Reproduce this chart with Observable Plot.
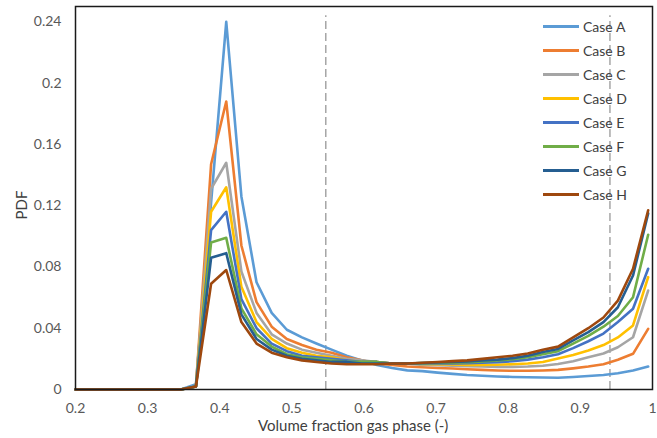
<!DOCTYPE html>
<html><head><meta charset="utf-8">
<script src="https://cdn.jsdelivr.net/npm/d3@7"></script>
<script src="https://cdn.jsdelivr.net/npm/@observablehq/plot@0.6"></script>
<style>
body{margin:0;background:#fff;}
#wrap{position:relative;width:657px;height:438px;font-family:Lato,"Open Sans",sans-serif;color:#595959;}
#wrap svg{position:absolute;left:0;top:0;}
.ttl{position:absolute;font-size:15px;color:#404040;white-space:nowrap;}
#legend{position:absolute;left:543px;top:14px;}
.row{display:flex;align-items:center;height:24px;font-size:14px;color:#404040;}
.sw{width:36px;height:3px;margin-right:4px;}
</style></head><body>
<div id="wrap"></div>
<script>
const xValues = [0.200,0.221,0.242,0.263,0.284,0.305,0.325,0.346,0.367,0.388,0.409,0.430,0.451,0.472,0.493,0.514,0.534,0.555,0.576,0.597,0.618,0.639,0.660,0.681,0.702,0.723,0.743,0.764,0.785,0.806,0.827,0.848,0.869,0.890,0.911,0.932,0.952,0.973,0.994];
const caseA = [0,0,0,0,0,0,0,0,0.0035,0.122,0.240,0.126,0.070,0.050,0.039,0.034,0.030,0.026,0.022,0.019,0.016,0.014,0.0125,0.012,0.011,0.0102,0.0095,0.009,0.0085,0.0082,0.008,0.0078,0.0077,0.0082,0.0088,0.0095,0.0106,0.0124,0.015];
const caseB = [0,0,0,0,0,0,0,0,0.002,0.147,0.188,0.094,0.057,0.041,0.033,0.029,0.026,0.024,0.021,0.019,0.017,0.016,0.015,0.0145,0.014,0.0137,0.0132,0.0128,0.0124,0.0122,0.0122,0.0124,0.0128,0.0138,0.015,0.0165,0.0194,0.0233,0.0396];
const caseC = [0,0,0,0,0,0,0,0,0.002,0.131,0.148,0.077,0.050,0.036,0.030,0.026,0.024,0.022,0.020,0.019,0.018,0.017,0.017,0.016,0.0158,0.0155,0.0152,0.015,0.0148,0.0148,0.015,0.0155,0.0166,0.0185,0.021,0.0235,0.0276,0.0341,0.0646];
const caseD = [0,0,0,0,0,0,0,0,0.002,0.116,0.132,0.067,0.044,0.033,0.027,0.024,0.022,0.021,0.019,0.018,0.018,0.017,0.017,0.0167,0.0165,0.0163,0.016,0.016,0.0162,0.0165,0.017,0.018,0.0203,0.0225,0.0255,0.029,0.034,0.0418,0.0733];
const caseE = [0,0,0,0,0,0,0,0,0.002,0.104,0.116,0.059,0.040,0.030,0.025,0.022,0.021,0.020,0.019,0.018,0.018,0.017,0.017,0.017,0.017,0.017,0.0172,0.0175,0.0178,0.0185,0.0195,0.021,0.023,0.027,0.0315,0.0365,0.044,0.0527,0.0788];
const caseF = [0,0,0,0,0,0,0,0,0.002,0.096,0.099,0.053,0.036,0.028,0.023,0.021,0.020,0.019,0.018,0.018,0.018,0.017,0.017,0.0172,0.0173,0.0175,0.0178,0.0183,0.019,0.0198,0.021,0.023,0.025,0.030,0.035,0.041,0.048,0.0602,0.101];
const caseG = [0,0,0,0,0,0,0,0,0.002,0.086,0.089,0.049,0.033,0.026,0.022,0.020,0.019,0.018,0.018,0.017,0.017,0.017,0.017,0.0173,0.0176,0.018,0.0183,0.019,0.0195,0.0205,0.022,0.0245,0.0265,0.032,0.0375,0.044,0.0537,0.0744,0.115];
const caseH = [0,0,0,0,0,0,0,0,0.002,0.069,0.078,0.044,0.030,0.024,0.021,0.019,0.018,0.017,0.0165,0.0165,0.0165,0.017,0.017,0.0175,0.018,0.0185,0.019,0.020,0.021,0.022,0.0235,0.026,0.028,0.034,0.040,0.047,0.058,0.0788,0.117];
const seriesNames = ["Case A","Case B","Case C","Case D","Case E","Case F","Case G","Case H"];
const seriesColors = ["#5B9BD5","#ED7D31","#A5A5A5","#FFC000","#4472C4","#70AD47","#255E91","#9E480E"];
const markerX = [0.547, 0.941];
const xTicks = [0.2,0.3,0.4,0.5,0.6,0.7,0.8,0.9,1];
const yTicks = [0,0.04,0.08,0.12,0.16,0.2,0.24];

const allSeries = [caseA,caseB,caseC,caseD,caseE,caseF,caseG,caseH];
const lineMarks = allSeries.map((vals, i) =>
  Plot.line(xValues.map((x, j) => ({x, y: vals[j]})), {x: "x", y: "y", stroke: seriesColors[i], strokeWidth: 2.6, strokeLinejoin: "round"})
);
const markerRows = markerX.map(x => ({x}));

const chart = Plot.plot({
  width: 657, height: 438,
  marginLeft: 75, marginRight: 5, marginTop: 6, marginBottom: 49,
  style: {fontFamily: "Lato, 'Open Sans', sans-serif", fontSize: "13px", color: "#595959", background: "transparent"},
  x: {domain: [0.2, 1]},
  y: {domain: [0, 0.25]},
  marks: [
    Plot.ruleX(markerRows, {x: "x", y1: 0, y2: 0.244, stroke: "#A6A6A6", strokeWidth: 1.5, strokeDasharray: "8,4"}),
    ...lineMarks,
    Plot.frame({stroke: "#1a1a1a", strokeWidth: 1.5}),
    Plot.axisX({ticks: xTicks, tickSize: 0, tickPadding: 14, fontSize: 14, label: null, tickFormat: d => d === 1 ? "1" : d.toFixed(1)}),
    Plot.axisY({ticks: yTicks, tickSize: 0, tickPadding: 14, fontSize: 14, label: null, tickFormat: d => d === 0 ? "0" : String(+d.toFixed(2))})
  ]
});
const wrap = document.getElementById("wrap");
wrap.appendChild(chart);

const xt = document.createElement("div");
xt.className = "ttl"; xt.textContent = "Volume fraction gas phase (-)";
xt.style.left = "258px"; xt.style.top = "416px";
wrap.appendChild(xt);
const yt = document.createElement("div");
yt.className = "ttl"; yt.textContent = "PDF";
yt.style.left = "7px"; yt.style.top = "196px"; yt.style.transform = "rotate(-90deg)";
wrap.appendChild(yt);

const leg = document.createElement("div");
leg.id = "legend";
seriesNames.forEach((n, i) => {
  const r = document.createElement("div"); r.className = "row";
  const s = document.createElement("div"); s.className = "sw"; s.style.background = seriesColors[i];
  const t = document.createElement("span"); t.textContent = n;
  r.appendChild(s); r.appendChild(t); leg.appendChild(r);
});
wrap.appendChild(leg);
</script>
</body></html>
